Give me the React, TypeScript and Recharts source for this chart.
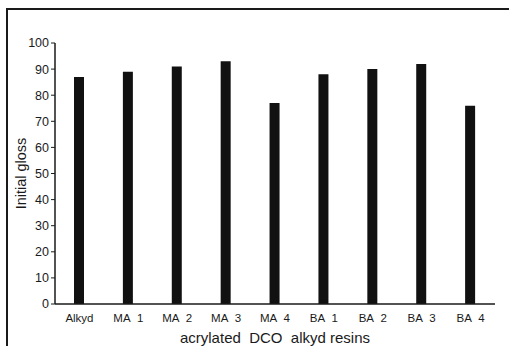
import { BarChart, Bar, XAxis, YAxis } from "recharts";

const resins = ["Alkyd", "MA\u00a0 1", "MA\u00a0 2", "MA\u00a0 3", "MA\u00a0 4", "BA\u00a0 1", "BA\u00a0 2", "BA\u00a0 3", "BA\u00a0 4"];
const gloss = [87, 89, 91, 93, 77, 88, 90, 92, 76];
const yTicks = [0, 10, 20, 30, 40, 50, 60, 70, 80, 90, 100];

const chartData = resins.map((name, i) => ({ name, gloss: gloss[i] }));

const ink = "#1a1a1a";
const font = "'Liberation Sans', Arial, sans-serif";

export default function App() {
  return (
    <div style={{ position: "absolute", left: 0, top: 0, width: 509, height: 346, background: "#fff", fontFamily: font }}>
      <div
        style={{
          position: "absolute", left: 6, top: 8, width: 503, height: 338,
          borderLeft: `2px solid ${ink}`, borderTop: `2px solid ${ink}`,
        }}
      />
      <BarChart
        width={509}
        height={346}
        data={chartData}
        margin={{ top: 43, right: 14, bottom: 0, left: 0 }}
        style={{ position: "absolute", left: 0, top: 0 }}
      >
        <XAxis
          dataKey="name"
          height={42}
          tickLine={false}
          tickMargin={4}
          axisLine={{ stroke: ink, strokeWidth: 1.5 }}
          tick={{ fill: ink, fontSize: 11.5, fontFamily: font }}
          label={{ value: "acrylated\u00a0 DCO\u00a0 alkyd resins", position: "insideBottom", offset: 3, fill: ink, fontSize: 15, fontFamily: font }}
        />
        <XAxis xAxisId="top" orientation="top" dataKey="name" height={0} tick={false} tickLine={false} axisLine={{ stroke: ink, strokeWidth: 1.5 }} />
        <YAxis
          width={55}
          domain={[0, 100]}
          ticks={yTicks}
          interval={0}
          tickSize={4}
          tickMargin={2}
          axisLine={{ stroke: ink, strokeWidth: 1.5 }}
          tickLine={{ stroke: ink }}
          tick={{ fill: ink, fontSize: 12.5, fontFamily: font }}
          label={{ value: "Initial gloss", angle: -90, position: "insideLeft", offset: 0, dx: 21, fill: ink, fontSize: 14.5, fontFamily: font, style: { textAnchor: "middle" } }}
        />
        <YAxis yAxisId="right" orientation="right" width={0} domain={[0, 100]} tick={false} tickLine={false} axisLine={{ stroke: ink, strokeWidth: 1.5 }} />
        <Bar dataKey="gloss" fill="#111" barSize={10} isAnimationActive={false} />
      </BarChart>
    </div>
  );
}
